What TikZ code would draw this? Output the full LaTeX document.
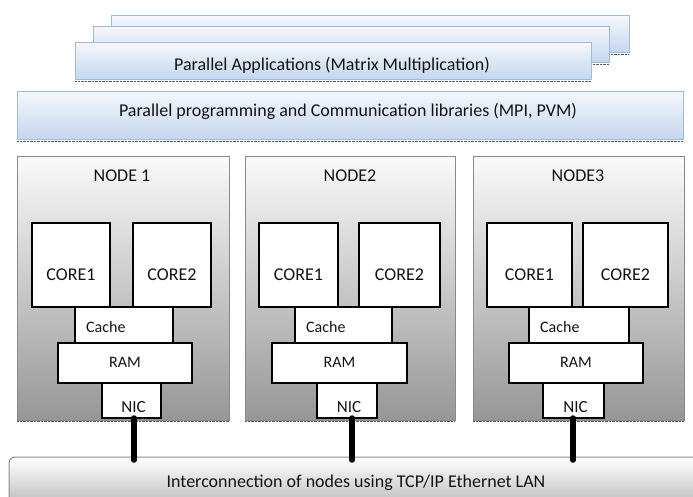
\documentclass[tikz,border=0pt]{standalone}
\usepackage{fontspec}
\setmainfont{Carlito}
\definecolor{appedge}{HTML}{9FBADC}
\definecolor{apptop}{HTML}{F4F7FB}
\definecolor{appbot}{HTML}{C3D6EE}
\definecolor{nodeedge}{HTML}{8A8A8A}
\definecolor{txt}{HTML}{141414}
\tikzset{
  box/.style={rectangle, inner sep=0pt, outer sep=0pt, anchor=north west},
  appbox/.style={box, draw=appedge, line width=1pt, top color=apptop, bottom color=appbot},
  nodebox/.style={box, draw=nodeedge, line width=1pt, top color=white!98!black, middle color=black!9, bottom color=black!41},
  lanbox/.style={box, draw=nodeedge, line width=1pt, rounded corners=6pt, top color=white, bottom color=black!38},
  corebox/.style={box, draw=black, line width=2.6pt, fill=white},
  membox/.style={box, draw=black, line width=1.2pt, fill=white},
  shadowline/.style={draw=black!65, line width=1.3pt, dash pattern=on 0.7pt off 0.7pt},
  link/.style={draw=black, line width=5.5pt, line cap=round},
  lbl/.style={inner sep=0pt, anchor=base, text=txt, font=\fontsize{18}{20}\selectfont},
  smalllbl/.style={lbl, font=\fontsize{16}{18}\selectfont},
}
\begin{document}
\begin{tikzpicture}[x=1pt, y=-1pt]
\useasboundingbox (0,0) rectangle (693,497);
\clip (0,0) rectangle (693,497);
% application stack
\node[appbox, minimum width=518, minimum height=37] (app3) at (111,16) {};
\draw[shadowline] ([yshift=-1.5pt]app3.south west) -- ([yshift=-1.5pt]app3.south east);
\node[appbox, minimum width=516, minimum height=36] (app2) at (93,27) {};
\draw[shadowline] ([yshift=-1.5pt]app2.south west) -- ([yshift=-1.5pt]app2.south east);
\node[appbox, minimum width=516, minimum height=37] (app1) at (75,43) {};
\draw[shadowline] ([yshift=-1.5pt]app1.south west) -- ([yshift=-1.5pt]app1.south east);
\node[lbl] (apptxt) at (332,71) {Parallel Applications (Matrix Multiplication)};
% libraries
\node[appbox, minimum width=666, minimum height=48] (lib) at (17,92) {};
\draw[shadowline] ([yshift=-1.5pt]lib.south west) -- ([yshift=-1.5pt]lib.south east);
\node[lbl] (libtxt) at (348,117) {Parallel programming and Communication libraries (MPI, PVM)};
% cluster nodes
\node[nodebox, minimum width=212, minimum height=263] (node1) at (17,157) {};
\node[nodebox, minimum width=210, minimum height=263] (node2) at (245,157) {};
\node[nodebox, minimum width=211, minimum height=263] (node3) at (473,157) {};
\foreach \n in {node1,node2,node3}{
  \draw[shadowline] ([yshift=-1.5pt]\n.south west) -- ([yshift=-1.5pt]\n.south east);
}
\node[lbl] (node1txt) at (122,182) {NODE 1};
\node[lbl] (node2txt) at (350,182) {NODE2};
\node[lbl] (node3txt) at (578,182) {NODE3};
% memory hierarchy
\node[membox, minimum width=98, minimum height=36] (cache1) at (75,307) {};
\node[membox, minimum width=97, minimum height=36] (cache2) at (295,307) {};
\node[membox, minimum width=100, minimum height=36] (cache3) at (529,307) {};
\node[membox, minimum width=134, minimum height=40] (ram1) at (58,343) {};
\node[membox, minimum width=135, minimum height=40] (ram2) at (272,343) {};
\node[membox, minimum width=134, minimum height=40] (ram3) at (509,343) {};
\node[membox, minimum width=59, minimum height=35] (nic1) at (102,383) {};
\node[membox, minimum width=60, minimum height=35] (nic2) at (317,383) {};
\node[membox, minimum width=61, minimum height=35] (nic3) at (543,383) {};
% cores
\node[corebox, minimum width=78, minimum height=84] (c11) at (32,223) {};
\node[corebox, minimum width=78, minimum height=84] (c12) at (133,223) {};
\node[corebox, minimum width=79, minimum height=84] (c21) at (259,223) {};
\node[corebox, minimum width=81, minimum height=84] (c22) at (359,223) {};
\node[corebox, minimum width=85, minimum height=84] (c31) at (487,223) {};
\node[corebox, minimum width=85, minimum height=84] (c32) at (583,223) {};
\foreach \c/\t in {c11/CORE1,c12/CORE2,c21/CORE1,c22/CORE2,c31/CORE1,c32/CORE2}{
  \node[lbl] (\c txt) at ([yshift=-15pt]\c.center) {\t};
}
\foreach \i in {1,2,3}{
  \node[smalllbl, anchor=base west] (cache\i txt) at ([xshift=11pt, yshift=-7pt]cache\i.west) {Cache};
  \node[smalllbl] (ram\i txt) at ([yshift=-4pt]ram\i.center) {RAM};
  \node[lbl, font=\fontsize{17}{19}\selectfont] (nic\i txt) at ([xshift=2pt, yshift=-11.5pt]nic\i.center) {NIC};
}
% LAN
\node[lanbox, minimum width=720, minimum height=70] (lan) at (9,457) {};
\node[lbl] (lantxt) at (356,487) {Interconnection of nodes using TCP/IP Ethernet LAN};
\draw[link] ([xshift=2.5pt]nic1.south) -- ([xshift=2.5pt,yshift=-3pt]nic1.south |- lan.north);
\draw[link] ([xshift=5pt]nic2.south) -- ([xshift=5pt,yshift=-3pt]nic2.south |- lan.north);
\draw[link] ([xshift=-0.5pt]nic3.south) -- ([xshift=-0.5pt,yshift=-3pt]nic3.south |- lan.north);
\end{tikzpicture}
\end{document}
